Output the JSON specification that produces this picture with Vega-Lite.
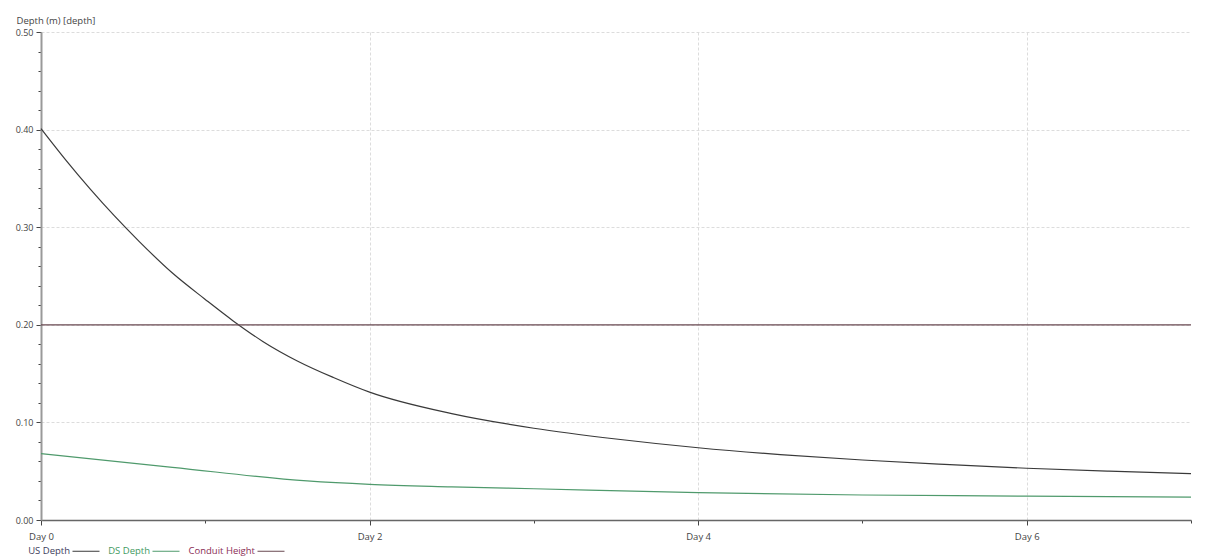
{
  "$schema": "https://vega.github.io/schema/vega-lite/v6.json",
  "width": 1150,
  "height": 488,
  "autosize": "none",
  "padding": {"left": 41, "top": 32, "right": 16, "bottom": 38},
  "background": "white",
  "config": {"view": {"stroke": null}, "font": "Open Sans"},
  "data": {
    "values": [
      {"series": "US Depth", "day": 0, "depth": 0.401},
      {"series": "US Depth", "day": 0.15, "depth": 0.369},
      {"series": "US Depth", "day": 0.3, "depth": 0.339},
      {"series": "US Depth", "day": 0.45, "depth": 0.311},
      {"series": "US Depth", "day": 0.6, "depth": 0.285},
      {"series": "US Depth", "day": 0.8, "depth": 0.253},
      {"series": "US Depth", "day": 1.0, "depth": 0.226},
      {"series": "US Depth", "day": 1.17, "depth": 0.204},
      {"series": "US Depth", "day": 1.35, "depth": 0.183},
      {"series": "US Depth", "day": 1.56, "depth": 0.163},
      {"series": "US Depth", "day": 1.78, "depth": 0.146},
      {"series": "US Depth", "day": 2.0, "depth": 0.131},
      {"series": "US Depth", "day": 2.5, "depth": 0.109},
      {"series": "US Depth", "day": 3.0, "depth": 0.094},
      {"series": "US Depth", "day": 3.5, "depth": 0.083},
      {"series": "US Depth", "day": 4.0, "depth": 0.074},
      {"series": "US Depth", "day": 4.5, "depth": 0.067},
      {"series": "US Depth", "day": 5.0, "depth": 0.0615},
      {"series": "US Depth", "day": 5.5, "depth": 0.057},
      {"series": "US Depth", "day": 6.0, "depth": 0.053},
      {"series": "US Depth", "day": 6.5, "depth": 0.05},
      {"series": "US Depth", "day": 7.0, "depth": 0.0475},
      {"series": "DS Depth", "day": 0, "depth": 0.068},
      {"series": "DS Depth", "day": 0.8, "depth": 0.054},
      {"series": "DS Depth", "day": 1.62, "depth": 0.04},
      {"series": "DS Depth", "day": 2.0, "depth": 0.0365},
      {"series": "DS Depth", "day": 2.5, "depth": 0.034},
      {"series": "DS Depth", "day": 3.0, "depth": 0.032},
      {"series": "DS Depth", "day": 4.0, "depth": 0.028},
      {"series": "DS Depth", "day": 5.0, "depth": 0.0256},
      {"series": "DS Depth", "day": 6.0, "depth": 0.0245},
      {"series": "DS Depth", "day": 7.0, "depth": 0.0235},
      {"series": "Conduit Height", "day": 0, "depth": 0.2},
      {"series": "Conduit Height", "day": 7.0, "depth": 0.2}
    ]
  },
  "layer": [
    {
      "mark": {"type": "line", "strokeOpacity": 0},
      "encoding": {
        "x": {
          "field": "day", "type": "quantitative",
          "scale": {"domain": [0, 7], "nice": false, "zero": false},
          "axis": {"orient": "bottom", "values": [1, 3, 5, 7], "labels": false, "grid": false, "domain": false, "tickSize": 3, "tickColor": "#444", "tickWidth": 1, "title": null}
        },
        "y": {
          "field": "depth", "type": "quantitative",
          "scale": {"domain": [0, 0.5], "nice": false},
          "axis": {"orient": "left", "values": [0.02, 0.04, 0.06, 0.08, 0.12, 0.14, 0.16, 0.18, 0.22, 0.24, 0.26, 0.28, 0.32, 0.34, 0.36, 0.38, 0.42, 0.44, 0.46, 0.48], "labels": false, "grid": false, "domain": false, "tickSize": 3, "tickColor": "#444", "tickWidth": 1, "title": null}
        },
        "detail": {"field": "series"}
      }
    },
    {
      "mark": {"type": "line", "strokeWidth": 1.2, "interpolate": "monotone"},
      "encoding": {
        "x": {
          "field": "day", "type": "quantitative",
          "scale": {"domain": [0, 7], "nice": false, "zero": false},
          "axis": {
            "orient": "bottom", "values": [0, 2, 4, 6], "labelExpr": "'Day ' + datum.value",
            "labelFlush": false, "labelOverlap": false,
            "grid": true, "gridColor": "#dcdcdc", "gridDash": [3, 2], "gridWidth": 1,
            "domainColor": "#666", "domainWidth": 1.5,
            "tickSize": 5, "tickColor": "#444", "tickWidth": 1,
            "labelFontSize": 9.5, "labelColor": "#444", "labelPadding": 6, "labelFont": "Open Sans",
            "title": null
          }
        },
        "y": {
          "field": "depth", "type": "quantitative",
          "scale": {"domain": [0, 0.5], "nice": false},
          "axis": {
            "orient": "left", "values": [0, 0.1, 0.2, 0.3, 0.4, 0.5], "format": ".2f",
            "labelFlush": false, "labelOverlap": false,
            "grid": true, "gridColor": "#dcdcdc", "gridDash": [3, 2], "gridWidth": 1,
            "domainColor": "#999", "domainWidth": 2,
            "tickSize": 5, "tickColor": "#444", "tickWidth": 1,
            "labelFontSize": 9, "labelColor": "#444", "labelPadding": 3, "labelFont": "Open Sans",
            "title": "Depth (m) [depth]", "titleAngle": 0, "titleAlign": "left", "titleBaseline": "middle",
            "titleX": -25, "titleY": -12, "titleFontSize": 9.5, "titleFontWeight": "normal", "titleColor": "#444", "titleFont": "Open Sans"
          }
        },
        "color": {
          "field": "series", "type": "nominal",
          "scale": {"domain": ["US Depth", "DS Depth", "Conduit Height"], "range": ["#3a3a3a", "#4f9a6c", "#6a4a52"]},
          "legend": {
            "title": null, "orient": "none", "direction": "horizontal", "legendX": 31, "legendY": 505,
            "symbolType": "stroke", "symbolSize": 729, "symbolStrokeWidth": 1,
            "labelAlign": "right", "labelOffset": -30, "labelFontSize": 9.5, "labelFont": "Open Sans",
            "columnPadding": 6,
            "encode": {
              "symbols": {"update": {"stroke": {"value": "#888888"}}},
              "labels": {"update": {"fill": {"signal": "datum.label === 'US Depth' ? '#3d3d5c' : datum.label === 'DS Depth' ? '#3f9a5f' : '#8a2d55'"}}}
            }
          }
        }
      }
    }
  ],
  "resolve": {"axis": {"x": "independent", "y": "independent"}}
}
